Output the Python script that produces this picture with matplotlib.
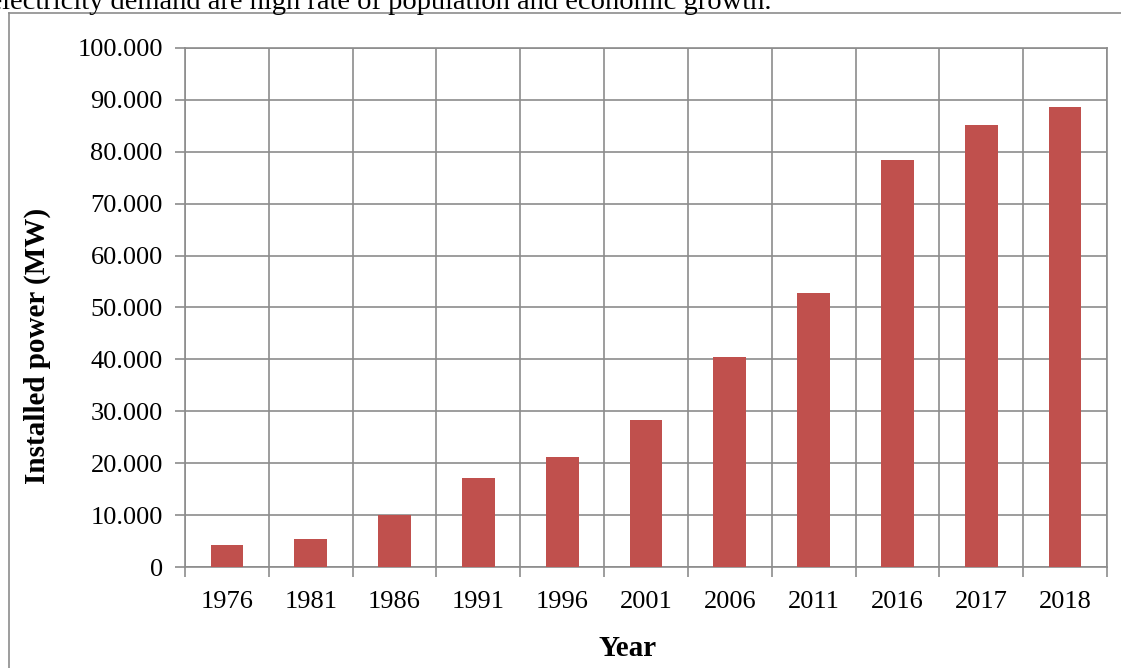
import matplotlib
matplotlib.use("Agg")
import matplotlib.pyplot as plt
import matplotlib.ticker as mticker
from matplotlib.lines import Line2D

# Installed power by year (MW)
years = ["1976", "1981", "1986", "1991", "1996", "2001",
         "2006", "2011", "2016", "2017", "2018"]
installed_mw = [4300, 5400, 10100, 17200, 21200, 28400,
                40500, 52700, 78400, 85200, 88600]

yticks = list(range(0, 100001, 10000))

BAR_COLOR = "#C0504D"
GRID_COLOR = "#8C8C8C"
FONT = ["Liberation Serif", "DejaVu Serif"]

plt.rcParams["font.family"] = FONT

W, H = 1121, 668
fig = plt.figure(figsize=(W / 100, H / 100), dpi=100)
fig.patch.set_facecolor("white")

# plot area in pixel coordinates
x0, x1, y0, y1 = 185, 1107, 48, 567
ax = fig.add_axes([x0 / W, 1 - y1 / H, (x1 - x0) / W, (y1 - y0) / H])

pos = list(range(len(years)))
ax.bar(pos, installed_mw, width=0.39, color=BAR_COLOR, edgecolor="none", zorder=3)

ax.set_xlim(-0.5, len(years) - 0.5)
ax.set_ylim(0, 100000)
ax.set_axisbelow(True)

# category boundaries carry the tick marks and vertical grid
ax.set_xticks([p - 0.5 for p in pos] + [len(years) - 0.5])
ax.set_xticklabels([])
ax.set_xticks(pos, minor=True)
ax.set_xticklabels(years, minor=True)
ax.tick_params(axis="x", which="major", length=7, width=1.2, color=GRID_COLOR)
ax.tick_params(axis="x", which="minor", length=0, pad=17, labelsize=19)

ax.set_yticks(yticks)
ax.yaxis.set_major_formatter(
    mticker.FuncFormatter(lambda v, _: f"{int(v):,}".replace(",", "."))
)
ax.tick_params(axis="y", length=7, width=1.2, color=GRID_COLOR, pad=9, labelsize=19)

ax.grid(True, which="major", color=GRID_COLOR, linewidth=1.2)
for sp in ax.spines.values():
    sp.set_color(GRID_COLOR)
    sp.set_linewidth(1.2)

fig.text(37 / W, 1 - 346 / H, "Installed power (MW)", rotation=90,
         ha="center", va="center", fontsize=21, fontweight="bold")
fig.text(628 / W, 1 - 648 / H, "Year", ha="center", va="center",
         fontsize=21, fontweight="bold")

# outer chart frame (left and top edges visible)
fig.add_artist(Line2D([8.5 / W, 8.5 / W], [1 - 13 / H, 0], transform=fig.transFigure,
                      color=GRID_COLOR, linewidth=1.2))
fig.add_artist(Line2D([8.5 / W, 1], [1 - 13 / H, 1 - 13 / H], transform=fig.transFigure,
                      color=GRID_COLOR, linewidth=1.2))

# preceding body text line, cut off at the top edge
fig.text(772 / W, 1 - 9 / H,
         "The main drivers of the growth in electricity demand are high rate of population and economic growth.",
         ha="right", va="baseline", fontsize=20.5)

fig.savefig("out.png", dpi=100)
